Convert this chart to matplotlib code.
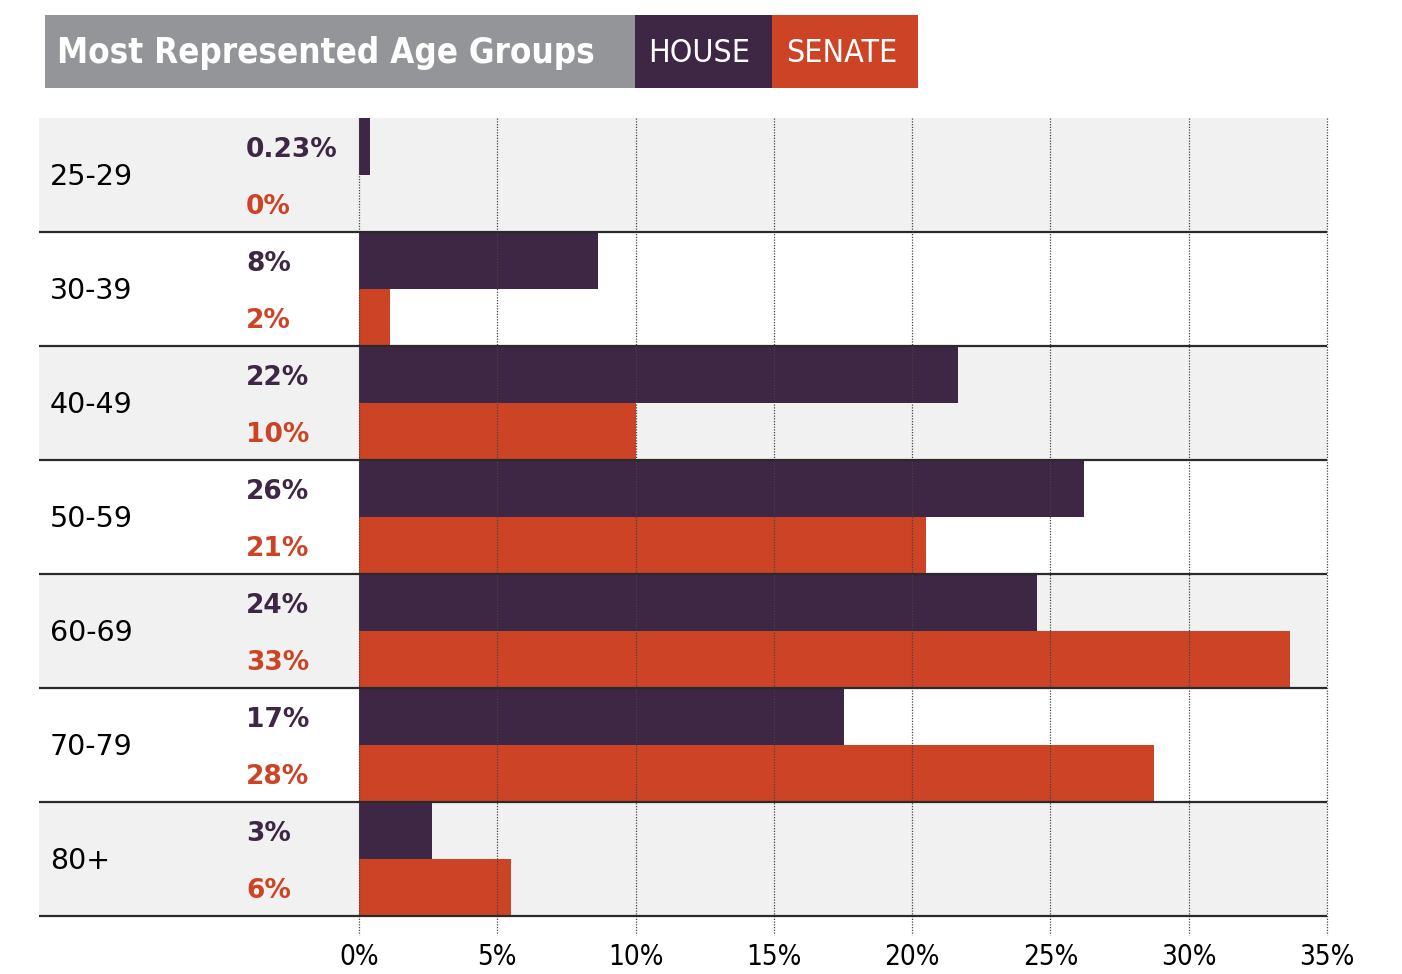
import matplotlib
matplotlib.use("Agg")
import matplotlib.pyplot as plt
from matplotlib.patches import Rectangle

# ---- data ----
categories = ["25-29", "30-39", "40-49", "50-59", "60-69", "70-79", "80+"]
house_values = [0.4, 8.65, 21.65, 26.2, 24.5, 17.55, 2.65]
senate_values = [0.0, 1.12, 10.0, 20.5, 33.65, 28.75, 5.5]
house_labels = ["0.23%", "8%", "22%", "26%", "24%", "17%", "3%"]
senate_labels = ["0%", "2%", "10%", "21%", "33%", "28%", "6%"]
xticks = [0, 5, 10, 15, 20, 25, 30, 35]
xtick_labels = ["0%", "5%", "10%", "15%", "20%", "25%", "30%", "35%"]
title = "Most Represented Age Groups"
legend_names = ["HOUSE", "SENATE"]

HOUSE_C = "#3e2645"
SENATE_C = "#cd4325"
ROW_GRAY = "#f1f1f1"
TITLE_GRAY = "#939598"

W, H = 1402, 974
fig = plt.figure(figsize=(W / 100, H / 100), dpi=100)

# axes in pixel coordinates
px_left, px_right = 39, 1327
px_top, px_bottom = 118, 935
ax = fig.add_axes([px_left / W, 1 - px_bottom / H,
                   (px_right - px_left) / W, (px_bottom - px_top) / H])

ppu = (1327 - 359) / 35.0  # pixels per percent
xmin = -(359 - px_left) / ppu
ax.set_xlim(xmin, 35)
row_px = (916 - 118) / 7.0
ymax = 7 + (px_bottom - 916) / row_px
ax.set_ylim(ymax, 0)

n = len(categories)
for i in range(n):
    if i % 2 == 0:
        ax.axhspan(i, i + 1, color=ROW_GRAY, zorder=0, lw=0)
    ax.axhline(i + 1, color="#2a2a2a", lw=1.6, zorder=4)

ys = list(range(n))
ax.barh([y + 0.25 for y in ys], house_values, height=0.5, color=HOUSE_C, zorder=2)
ax.barh([y + 0.75 for y in ys], senate_values, height=0.5, color=SENATE_C, zorder=2)

for t in xticks:
    ax.vlines(t, 0, ymax, colors="#444444", linestyles=(0, (1, 1.2)), lw=0.9,
              zorder=3, clip_on=False)

cat_x = xmin + (50 - px_left) / ppu
val_x = xmin + (246 - px_left) / ppu
for i, c in enumerate(categories):
    ax.text(cat_x, i + 0.52, c, ha="left", va="center", fontsize=20.5,
            color="black", family="DejaVu Sans", zorder=5)
    ax.text(val_x, i + 0.285, house_labels[i], ha="left", va="center", fontsize=19,
            fontweight="bold", color=HOUSE_C, zorder=5)
    ax.text(val_x, i + 0.785, senate_labels[i], ha="left", va="center", fontsize=19,
            fontweight="bold", color=SENATE_C, zorder=5)

ax.set_xticks(xticks)
ax.set_xticklabels(xtick_labels, fontsize=20, fontstretch="condensed")
ax.tick_params(axis="x", length=0, pad=6)
ax.set_yticks([])
for s in ax.spines.values():
    s.set_visible(False)

# ---- header bar ----
def fig_rect(x0, y0, x1, y1, color):
    fig.patches.append(Rectangle((x0 / W, 1 - y1 / H), (x1 - x0) / W, (y1 - y0) / H,
                                 transform=fig.transFigure, color=color, lw=0))

fig_rect(45, 15, 635, 88, TITLE_GRAY)
fig_rect(635, 15, 772, 88, HOUSE_C)
fig_rect(772, 15, 918, 88, SENATE_C)
fig.text(57 / W, 1 - 53 / H, title, ha="left", va="center", color="white",
         fontsize=25, fontweight="bold", fontstretch="condensed")
fig.text(699 / W, 1 - 53 / H, legend_names[0], ha="center", va="center",
         color="white", fontsize=23, fontstretch="condensed")
fig.text(842 / W, 1 - 53 / H, legend_names[1], ha="center", va="center",
         color="white", fontsize=23, fontstretch="condensed")

fig.savefig("out.png", dpi=100, facecolor="white")
